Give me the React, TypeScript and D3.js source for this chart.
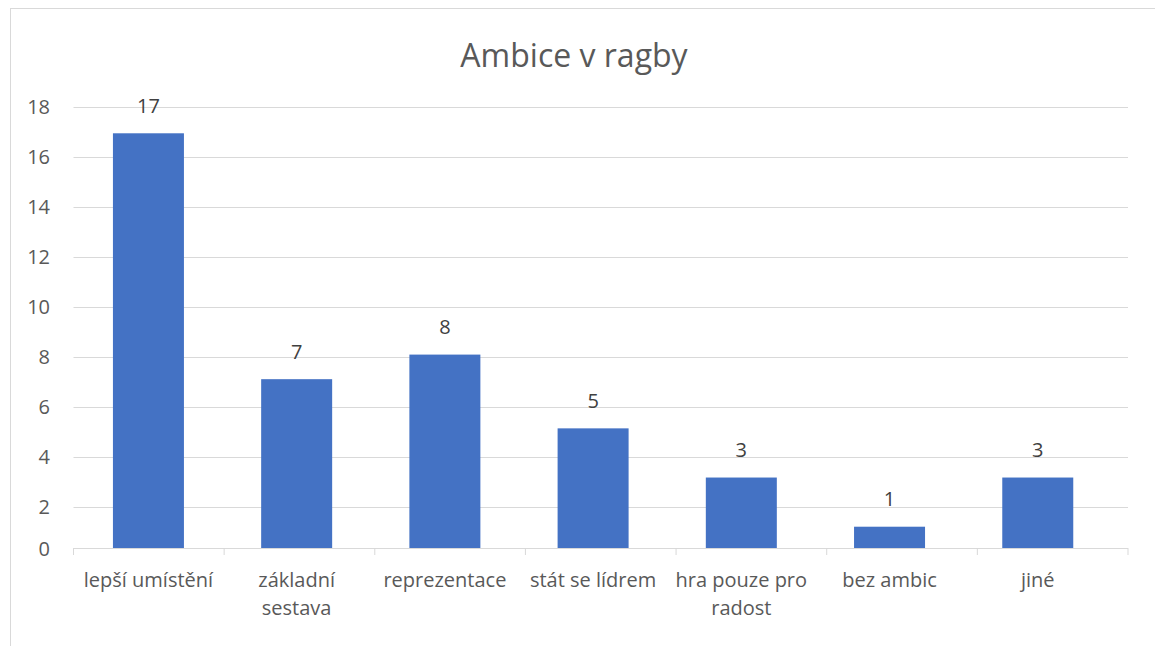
import React from "react";
import * as d3 from "d3";

const title = "Ambice v ragby";
const categories = ["lepší umístění", "základní sestava", "reprezentace", "stát se lídrem", "hra pouze pro radost", "bez ambic", "jiné"];
const categoryLines = [["lepší umístění"], ["základní", "sestava"], ["reprezentace"], ["stát se lídrem"], ["hra pouze pro", "radost"], ["bez ambic"], ["jiné"]];
const values = [17, 7, 8, 5, 3, 1, 3];
const yTicks = [0, 2, 4, 6, 8, 10, 12, 14, 16, 18];

const W = 1155, H = 646;
const left = 73.5, right = 1128, bottom = 548;
const font = "'Open Sans', Lato, sans-serif";

export default function App() {
  const x = d3.scaleBand<string>().domain(categories).range([74.4, 1111.8]).paddingInner(0.521).paddingOuter(0.26);
  const band = d3.scaleBand<string>().domain(categories).range([left, right]);
  const yGrid = d3.scaleLinear().domain([0, 18]).range([556.7, 106.7]);
  const yBar = d3.scaleLinear().domain([0, 18]).range([551.3, 108.7]);
  const tickY = (t: number) => (t === 0 ? bottom : yGrid(t));
  return (
    <svg width={W} height={H} style={{ position: "absolute", left: 0, top: 0, background: "#fff" }}>
      <rect x={10.5} y={8.5} width={1160} height={700} fill="#fff" stroke="#d9d9d9" />
      <text x={574} y={54} textAnchor="middle" dominantBaseline="central" fontFamily={font} fontSize={32} fill="#595959">{title}</text>
      {yTicks.map((t) => (
        <g key={t}>
          {t > 0 && <line x1={left} x2={right} y1={Math.round(yGrid(t)) + 0.5} y2={Math.round(yGrid(t)) + 0.5} stroke="#d9d9d9" strokeWidth={1} />}
          <text x={50} y={tickY(t)} textAnchor="end" dominantBaseline="central" fontFamily={font} fontSize={20} fill="#595959">{t}</text>
        </g>
      ))}
      {categories.map((c, i) => (
        <rect key={c} x={x(c)} y={yBar(values[i])} width={x.bandwidth()} height={bottom - yBar(values[i])} fill="#4472C4" />
      ))}
      <line x1={left} x2={right} y1={bottom + 0.5} y2={bottom + 0.5} stroke="#d9d9d9" />
      {[...categories.map((c) => band(c)!), right].map((bx, i) => (
        <line key={i} x1={bx} x2={bx} y1={bottom} y2={bottom + 7} stroke="#d9d9d9" />
      ))}
      {categories.map((c, i) => (
        <text key={c} x={x(c)! + x.bandwidth() / 2} y={yBar(values[i]) - 28} textAnchor="middle" dominantBaseline="central" fontFamily={font} fontSize={20} fill="#404040">{values[i]}</text>
      ))}
      {categories.map((c, i) => (
        <text key={c} textAnchor="middle" fontFamily={font} fontSize={20} fill="#595959">
          {categoryLines[i].map((ln, j) => (
            <tspan key={j} x={x(c)! + x.bandwidth() / 2} y={579 + j * 28} dominantBaseline="central">{ln}</tspan>
          ))}
        </text>
      ))}
    </svg>
  );
}
